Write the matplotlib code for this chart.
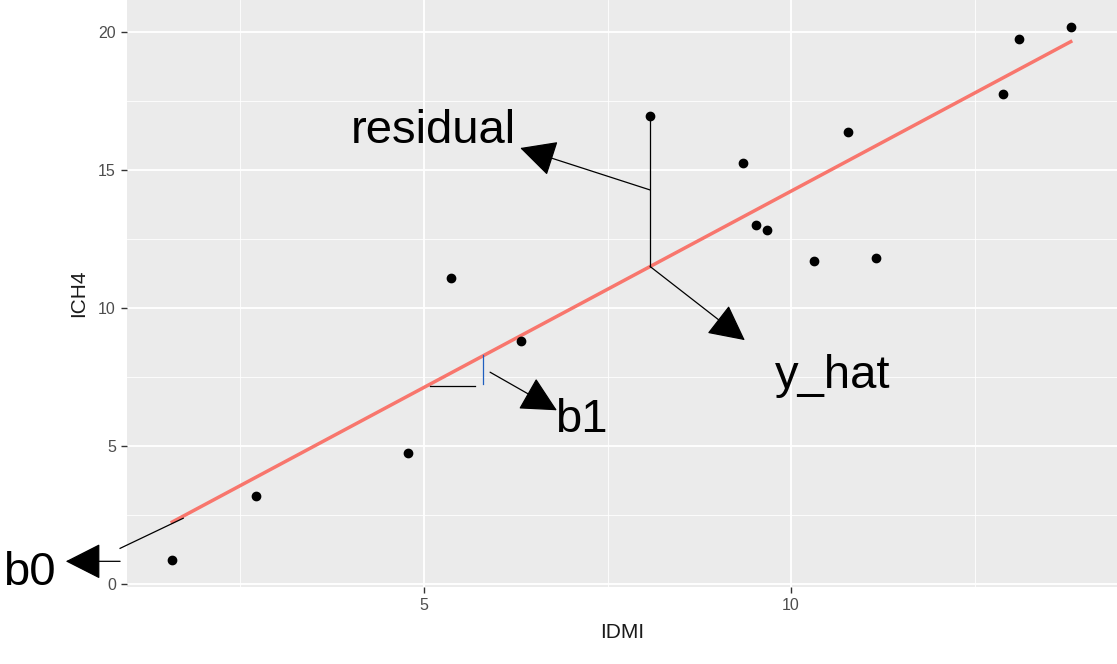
import matplotlib
matplotlib.use("Agg")
import matplotlib.pyplot as plt
import numpy as np

plt.rcParams['font.family'] = ['Liberation Sans', 'DejaVu Sans']

# data
idmi = [1.57, 2.71, 4.78, 5.37, 6.32, 8.08, 9.35, 9.52, 9.67, 10.31, 10.78, 11.16, 12.89, 13.11, 13.81]
ich4 = [0.87, 3.19, 4.75, 11.09, 8.80, 16.96, 15.25, 13.00, 12.83, 11.70, 16.38, 11.81, 17.75, 19.75, 20.18]
x_ticks = [5, 10]
y_ticks = [0, 5, 10, 15, 20]

x = np.array(idmi)
y = np.array(ich4)
b1, b0 = np.polyfit(x, y, 1)

fig = plt.figure(figsize=(11.17, 6.64), dpi=100)
ax = fig.add_axes([127/1117, 1 - 587/664, 1 - 127/1117, 587/664])
ax.set_facecolor('#EBEBEB')
for s in ax.spines.values():
    s.set_visible(False)

ax.set_xlim(0.954, 14.44)
ax.set_ylim(-0.1, 21.16)
ax.set_xticks(x_ticks)
ax.set_yticks(y_ticks)
ax.set_xticks([2.5, 7.5, 12.5], minor=True)
ax.set_yticks([2.5, 7.5, 12.5, 17.5], minor=True)
ax.grid(True, which='major', color='white', lw=1.3)
ax.grid(True, which='minor', color='white', lw=0.6)
ax.set_axisbelow(True)
ax.tick_params(which='major', length=4, color='#333333', labelcolor='#4D4D4D',
               labelsize=11.5, width=1, pad=4)
ax.tick_params(which='minor', length=0)
ax.set_xlabel('IDMI', fontsize=15, color='#1a1a1a', labelpad=7)
ax.set_ylabel('ICH4', fontsize=15, color='#1a1a1a', labelpad=7)

# regression line
xl = np.array([x.min(), x.max()])
ax.plot(xl, b0 + b1 * xl, color='#F8766D', lw=2.5, zorder=2)
ax.scatter(x, y, s=36, color='black', zorder=3)

arrow = dict(arrowstyle='-|>,head_length=0.65,head_width=0.33', mutation_scale=35,
             color='black', lw=0.9, shrinkA=0, shrinkB=0)
fs = 34

# residual
i = 5
yhat = b0 + b1 * x[i]
ax.vlines(x[i], yhat, y[i], color='black', lw=0.9, zorder=2)
ax.annotate('', xy=(6.31, 15.80), xytext=(x[i], 14.28), arrowprops=arrow)
ax.text(6.25, 16.4, 'residual', fontsize=fs, ha='right', va='center')

# y_hat
ax.annotate('', xy=(9.37, 8.84), xytext=(x[i], yhat), arrowprops=arrow)
ax.text(9.78, 7.10, 'y_hat', fontsize=fs, ha='left', va='baseline')

# b1
ax.plot([5.80, 5.80], [7.25, 8.30], color='#1f5fbf', lw=0.9)
ax.plot([5.08, 5.69], [7.17, 7.17], color='black', lw=0.9)
ax.annotate('', xy=(6.81, 6.30), xytext=(5.90, 7.68), arrowprops=arrow)
ax.text(6.78, 5.51, 'b1', fontsize=fs, ha='left', va='baseline')

# b0
ax.plot([0.86, 1.72], [1.30, 2.39], color='black', lw=0.9, clip_on=False)
ax.annotate('', xy=(0.12, 0.83), xytext=(0.86, 0.83), arrowprops=arrow, annotation_clip=False)
ax.text(-0.74, -0.04, 'b0', fontsize=fs, ha='left', va='baseline', clip_on=False)

fig.savefig('out.png', dpi=100)
